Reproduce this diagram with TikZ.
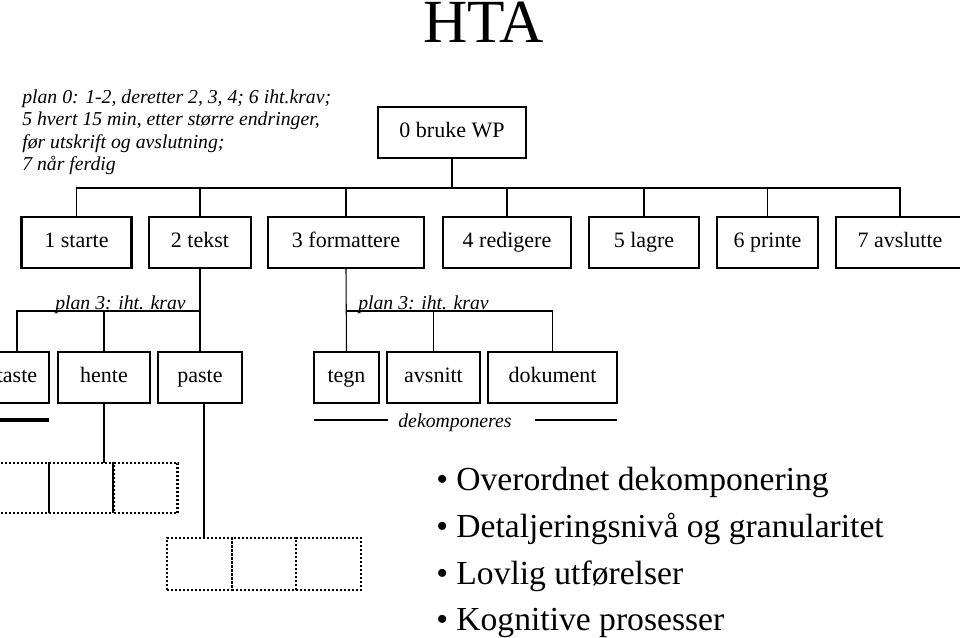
\documentclass[tikz,border=0pt]{standalone}
\usepackage{fontspec}
\setmainfont{Liberation Serif}
\begin{document}
\begin{tikzpicture}[x=0.75pt,y=-0.75pt,
  box/.style={draw, line width=1.6pt, inner sep=0pt, minimum height=38.25pt,
    font=\fontsize{16.5}{19}\selectfont, text height=0.82em, text depth=0pt},
  conn/.style={line width=0.8pt},
  dcell/.style={draw, line width=1.8pt, dash pattern=on 1.5pt off 1.5pt,
    inner sep=0pt, minimum width=48pt},
  plantext/.style={font=\fontsize{14.8}{17}\selectfont\itshape, inner sep=0pt, anchor=base west},
  bul/.style={font=\fontsize{25.2}{30}\selectfont, inner sep=0pt, anchor=base west}]
\useasboundingbox (0,0) rectangle (960,638);
\clip (0,0) rectangle (960,638);

% title
\node[font=\fontsize{46}{50}\selectfont, inner sep=0pt, text height=0.66em, text depth=0pt, anchor=base] (title) at (483.7,43) {HTA};

% plan 0
\node[plantext] (p1) at (22,103.3) {plan 0: 1-2, deretter 2, 3, 4; 6 iht.krav;};
\node[plantext] (p2) at (22,126.0) {5 hvert 15 min, etter større endringer,};
\node[plantext] (p3) at (22,148.3) {før utskrift og avslutning;};
\node[plantext] (p4) at (22,170.5) {7 når ferdig};

% level 0
\node[box, minimum width=111pt, minimum height=38.25pt] (b0) at (452,132.5) {0 bruke WP};

% level 1
\node[box, minimum width=82.5pt] (b1) at (76.5,242.5) {1 starte};
\node[box, minimum width=76.5pt] (b2) at (200,242.5) {2 tekst};
\node[box, minimum width=117pt] (b3) at (346,242.5) {3 formattere};
\node[box, minimum width=96pt] (b4) at (507,242.5) {4 redigere};
\node[box, minimum width=82.5pt] (b5) at (644,242.5) {5 lagre};
\node[box, minimum width=75.75pt] (b6) at (767.5,242.5) {6 printe};
\node[box, minimum width=96pt] (b7) at (900,242.5) {7 avslutte};

\coordinate (j0) at (452,188);
\draw[conn] (b0.south) -- (j0);
\foreach \n in {b1,b2,b3,b4,b5,b6,b7} \draw[conn] (\n.north) |- (j0);

% level 2
\node[box, minimum width=48pt] (taste) at (17,377.5) {taste};
\node[box, minimum width=69pt] (hente) at (104,377.5) {hente};
\node[box, minimum width=63pt] (paste) at (200,377.5) {paste};
\node[box, minimum width=48.75pt] (tegn) at (346.5,377.5) {tegn};
\node[box, minimum width=69.75pt] (avsnitt) at (433.5,377.5) {avsnitt};
\node[box, minimum width=96.75pt] (dokument) at (552.5,377.5) {dokument};

\coordinate (j2) at (200,311);
\coordinate (j3) at (346.5,311);
\draw[conn] (b2.south) -- (paste.north);
\draw[conn] (taste.north) |- (j2);
\draw[conn] (hente.north) |- (j2);
\draw[conn] (b3.south) -- (tegn.north);
\draw[conn] (avsnitt.north) |- (j3);
\draw[conn] (dokument.north) |- (j3);

\node[plantext] (pl3a) at (55,309) {plan 3: iht. krav};
\node[plantext] (pl3b) at (358,309) {plan 3: iht. krav};

% dekomponeres
\node[font=\fontsize{14.8}{17}\selectfont\itshape, inner sep=0pt, anchor=base] (dek) at (455,427) {dekomponeres};
\coordinate (dl1) at (314,420);
\coordinate (dl2) at (388,420);
\coordinate (dr1) at (535,420);
\coordinate (dr2) at (617,420);
\draw[conn] (dl1) -- (dl2);
\draw[conn] (dr1) -- (dr2);

% thick bar under taste
\coordinate (tb1) at (-5,420);
\coordinate (tb2) at (49,420);
\draw[line width=3pt] (tb1) -- (tb2);

% dotted cells row 1
\node[dcell, minimum height=37.5pt] (c11) at (17,488) {};
\node[dcell, minimum height=37.5pt] (c12) at (81,488) {};
\node[dcell, minimum height=37.5pt] (c13) at (145.5,488) {};
% dotted cells row 2
\node[dcell, minimum height=39pt, minimum width=48.75pt] (c21) at (199.5,564) {};
\node[dcell, minimum height=39pt] (c22) at (264,564) {};
\node[dcell, minimum height=39pt, minimum width=48.75pt] (c23) at (328.5,564) {};

\coordinate (h1) at (104,403);
\coordinate (h2) at (104,463);
\draw[conn] (h1) -- (h2);
\coordinate (q1) at (204,403);
\coordinate (q2) at (204,538);
\draw[conn] (q1) -- (q2);

% bullets
\node[bul] (l1) at (436,490.5) {• Overordnet dekomponering};
\node[bul] (l2) at (436,537.5) {• Detaljeringsnivå og granularitet};
\node[bul] (l3) at (436,584) {• Lovlig utførelser};
\node[bul] (l4) at (436,630.5) {• Kognitive prosesser};
\end{tikzpicture}
\end{document}
